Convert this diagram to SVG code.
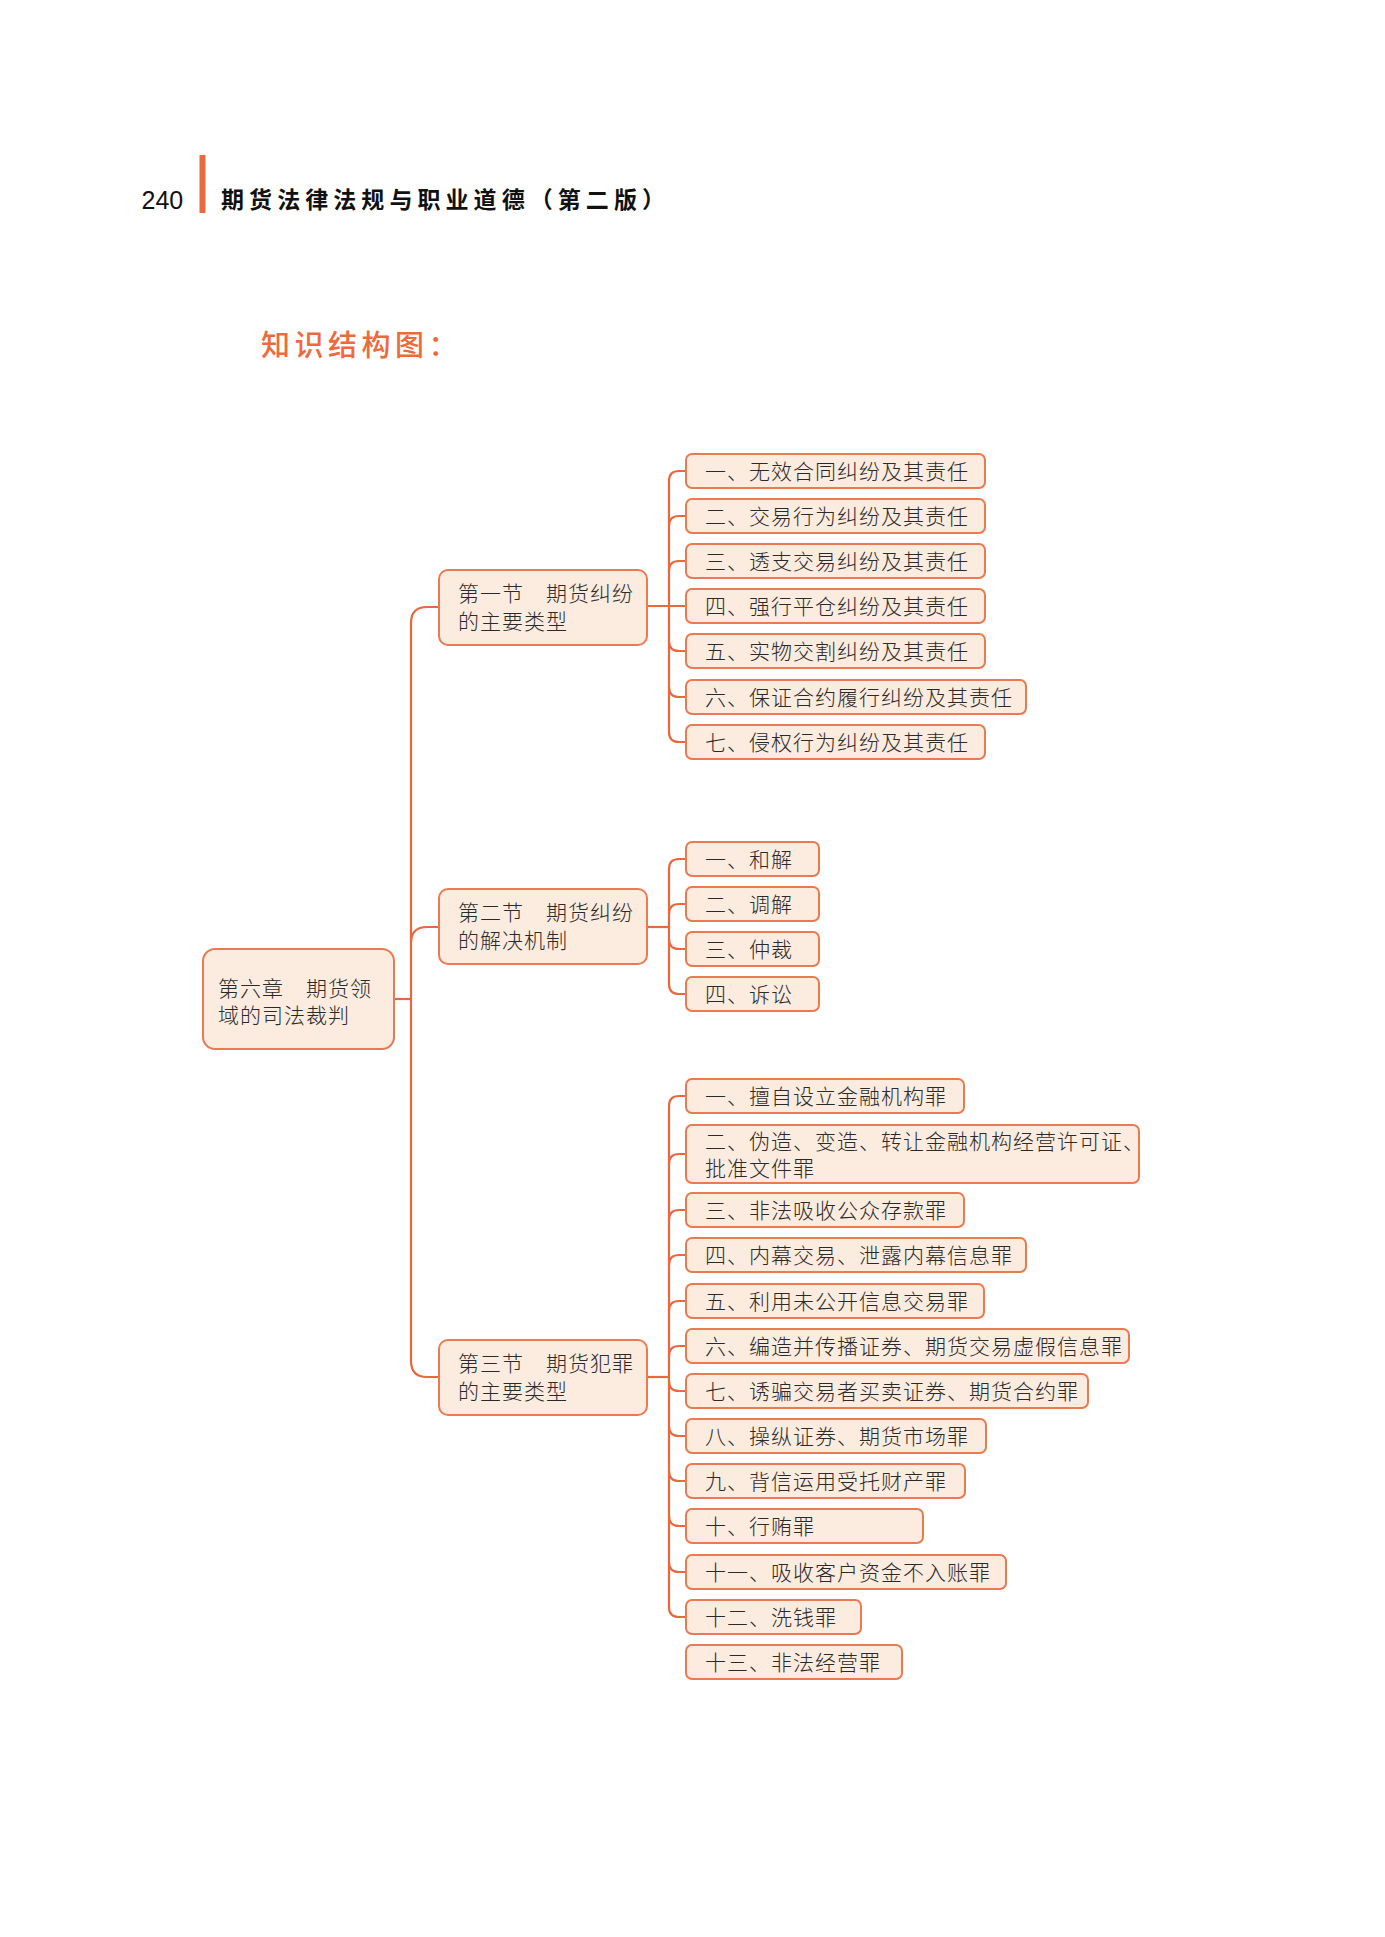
<svg xmlns="http://www.w3.org/2000/svg" width="1385" height="1937" viewBox="0 0 1385 1937">
<style>
.bg{fill:#ffffff}
.box{fill:#FCEBDF;stroke:#EC7A50;stroke-width:2}
.t{font-family:"Noto Sans CJK SC","Noto Sans CJK JP",sans-serif;font-size:21px;font-weight:300;fill:#2a2a2a;letter-spacing:1px}
.con{fill:none;stroke:#E9683E;stroke-width:2.2}
.hd{font-family:"Noto Sans CJK SC",sans-serif;font-weight:600;fill:#111111}
</style>
<rect class="bg" x="0" y="0" width="1385" height="1937"/>
<g id="header">
<text x="141.5" y="209" style="font-family:'Liberation Sans',Arial,sans-serif;font-size:25px;fill:#111111">240</text>
<rect x="199.5" y="155" width="6" height="58" fill="#EA6A3F"/>
<text class="hd" x="221" y="208" font-size="23" textLength="444">期货法律法规与职业道德（第二版）</text>
</g>
<g id="heading">
<text x="261" y="356" style="font-family:'Noto Sans CJK SC',sans-serif;font-size:29px;font-weight:500;fill:#EE6A3D;letter-spacing:4.5px">知识结构图：</text>
</g>
<g id="connectors">
<path class="con" d="M394 999 H411"/>
<path class="con" d="M439 607 H427 Q411 607 411 623 V1361 Q411 1377 427 1377 H439"/>
<path class="con" d="M411 943 Q411 927 427 927 H439"/>
<path class="con" d="M647 606 H686"/>
<path class="con" d="M669 481 V732"/>
<path class="con" d="M669 481 Q669 471 679 471 H686"/>
<path class="con" d="M669 526 Q669 516 679 516 H686"/>
<path class="con" d="M669 571 Q669 561 679 561 H686"/>
<path class="con" d="M669 641 Q669 651 679 651 H686"/>
<path class="con" d="M669 687 Q669 697 679 697 H686"/>
<path class="con" d="M669 732 Q669 742 679 742 H686"/>
<path class="con" d="M647 927 H669"/>
<path class="con" d="M669 869 V984"/>
<path class="con" d="M669 869 Q669 859 679 859 H686"/>
<path class="con" d="M669 914 Q669 904 679 904 H686"/>
<path class="con" d="M669 939 Q669 949 679 949 H686"/>
<path class="con" d="M669 984 Q669 994 679 994 H686"/>
<path class="con" d="M647 1377 H669"/>
<path class="con" d="M669 1106 V1607"/>
<path class="con" d="M669 1106 Q669 1096 679 1096 H686"/>
<path class="con" d="M669 1164 Q669 1154 679 1154 H686"/>
<path class="con" d="M669 1220 Q669 1210 679 1210 H686"/>
<path class="con" d="M669 1265 Q669 1255 679 1255 H686"/>
<path class="con" d="M669 1311 Q669 1301 679 1301 H686"/>
<path class="con" d="M669 1356 Q669 1346 679 1346 H686"/>
<path class="con" d="M669 1381 Q669 1391 679 1391 H686"/>
<path class="con" d="M669 1426 Q669 1436 679 1436 H686"/>
<path class="con" d="M669 1471 Q669 1481 679 1481 H686"/>
<path class="con" d="M669 1516 Q669 1526 679 1526 H686"/>
<path class="con" d="M669 1562 Q669 1572 679 1572 H686"/>
<path class="con" d="M669 1607 Q669 1617 679 1617 H686"/>
</g>
<g id="root">
<rect class="box" x="203" y="949" width="191" height="100" rx="12"/>
<text class="t" x="218" y="995.5">第六章　期货领</text>
<text class="t" x="218" y="1022.5">域的司法裁判</text>
</g>
<g id="sec1">
<rect class="box" x="439" y="570" width="208" height="75" rx="9"/>
<text class="t" x="458" y="601">第一节　期货纠纷</text>
<text class="t" x="458" y="629">的主要类型</text>
</g>
<g id="sec2">
<rect class="box" x="439" y="889" width="208" height="75" rx="9"/>
<text class="t" x="458" y="920">第二节　期货纠纷</text>
<text class="t" x="458" y="948">的解决机制</text>
</g>
<g id="sec3">
<rect class="box" x="439" y="1340" width="208" height="75" rx="9"/>
<text class="t" x="458" y="1371">第三节　期货犯罪</text>
<text class="t" x="458" y="1399">的主要类型</text>
</g>
<g id="s1i1"><rect class="box" x="686" y="454" width="299" height="34" rx="6"/><text class="t" x="705" y="478.5">一、无效合同纠纷及其责任</text></g>
<g id="s1i2"><rect class="box" x="686" y="499" width="299" height="34" rx="6"/><text class="t" x="705" y="523.5">二、交易行为纠纷及其责任</text></g>
<g id="s1i3"><rect class="box" x="686" y="544" width="299" height="34" rx="6"/><text class="t" x="705" y="568.5">三、透支交易纠纷及其责任</text></g>
<g id="s1i4"><rect class="box" x="686" y="589" width="299" height="34" rx="6"/><text class="t" x="705" y="613.5">四、强行平仓纠纷及其责任</text></g>
<g id="s1i5"><rect class="box" x="686" y="634" width="299" height="34" rx="6"/><text class="t" x="705" y="658.5">五、实物交割纠纷及其责任</text></g>
<g id="s1i6"><rect class="box" x="686" y="680" width="340" height="34" rx="6"/><text class="t" x="705" y="704.5">六、保证合约履行纠纷及其责任</text></g>
<g id="s1i7"><rect class="box" x="686" y="725" width="299" height="34" rx="6"/><text class="t" x="705" y="749.5">七、侵权行为纠纷及其责任</text></g>
<g id="s2i1"><rect class="box" x="686" y="842" width="133" height="34" rx="6"/><text class="t" x="705" y="866.5">一、和解</text></g>
<g id="s2i2"><rect class="box" x="686" y="887" width="133" height="34" rx="6"/><text class="t" x="705" y="911.5">二、调解</text></g>
<g id="s2i3"><rect class="box" x="686" y="932" width="133" height="34" rx="6"/><text class="t" x="705" y="956.5">三、仲裁</text></g>
<g id="s2i4"><rect class="box" x="686" y="977" width="133" height="34" rx="6"/><text class="t" x="705" y="1001.5">四、诉讼</text></g>
<g id="s3i1"><rect class="box" x="686" y="1079" width="278" height="34" rx="6"/><text class="t" x="705" y="1103.5">一、擅自设立金融机构罪</text></g>
<g id="s3i2"><rect class="box" x="686" y="1125" width="453" height="58" rx="6"/><text class="t" x="705" y="1149">二、伪造、变造、转让金融机构经营许可证、</text><text class="t" x="705" y="1175.5">批准文件罪</text></g>
<g id="s3i3"><rect class="box" x="686" y="1193" width="278" height="34" rx="6"/><text class="t" x="705" y="1217.5">三、非法吸收公众存款罪</text></g>
<g id="s3i4"><rect class="box" x="686" y="1238" width="340" height="34" rx="6"/><text class="t" x="705" y="1262.5">四、内幕交易、泄露内幕信息罪</text></g>
<g id="s3i5"><rect class="box" x="686" y="1284" width="298" height="34" rx="6"/><text class="t" x="705" y="1308.5">五、利用未公开信息交易罪</text></g>
<g id="s3i6"><rect class="box" x="686" y="1329" width="443" height="34" rx="6"/><text class="t" x="705" y="1353.5">六、编造并传播证券、期货交易虚假信息罪</text></g>
<g id="s3i7"><rect class="box" x="686" y="1374" width="402" height="34" rx="6"/><text class="t" x="705" y="1398.5">七、诱骗交易者买卖证券、期货合约罪</text></g>
<g id="s3i8"><rect class="box" x="686" y="1419" width="300" height="34" rx="6"/><text class="t" x="705" y="1443.5">八、操纵证券、期货市场罪</text></g>
<g id="s3i9"><rect class="box" x="686" y="1464" width="279" height="34" rx="6"/><text class="t" x="705" y="1488.5">九、背信运用受托财产罪</text></g>
<g id="s3i10"><rect class="box" x="686" y="1509" width="237" height="34" rx="6"/><text class="t" x="705" y="1533.5">十、行贿罪</text></g>
<g id="s3i11"><rect class="box" x="686" y="1555" width="320" height="34" rx="6"/><text class="t" x="705" y="1579.5">十一、吸收客户资金不入账罪</text></g>
<g id="s3i12"><rect class="box" x="686" y="1600" width="175" height="34" rx="6"/><text class="t" x="705" y="1624.5">十二、洗钱罪</text></g>
<g id="s3i13"><rect class="box" x="686" y="1645" width="216" height="34" rx="6"/><text class="t" x="705" y="1669.5">十三、非法经营罪</text></g>
</svg>
